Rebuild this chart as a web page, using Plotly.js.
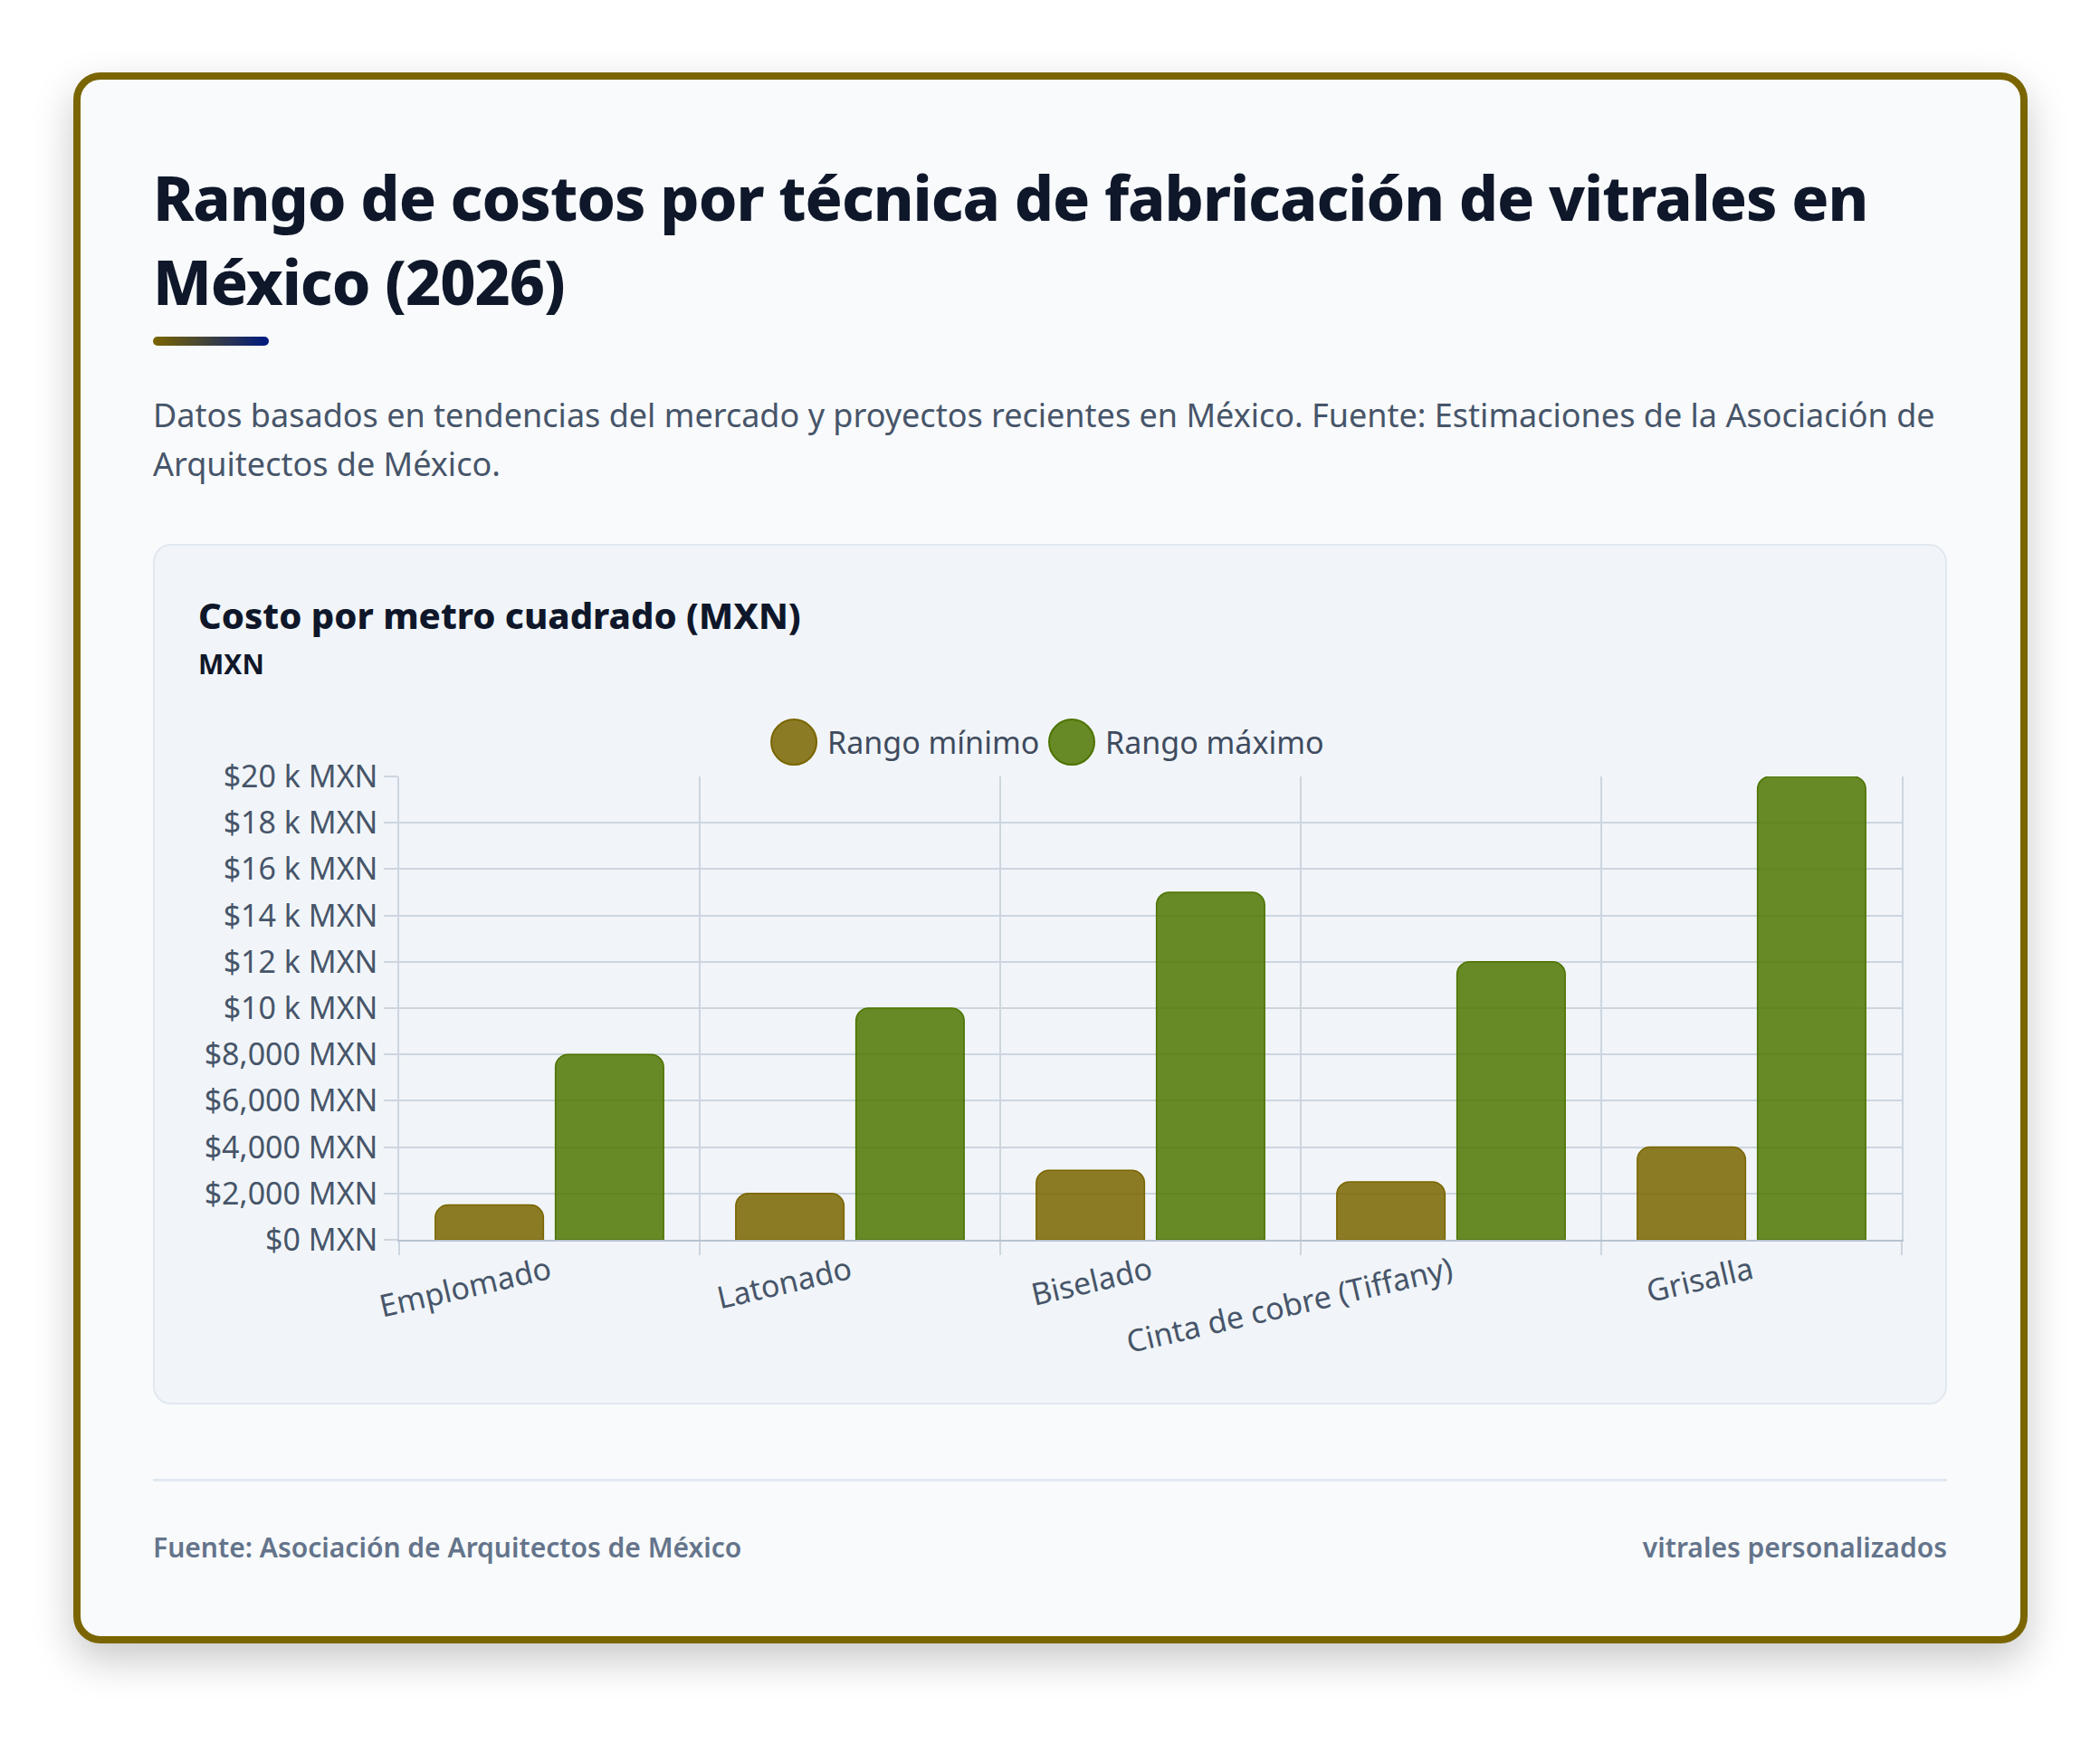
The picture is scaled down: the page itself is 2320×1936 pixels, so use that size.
<!DOCTYPE html>
<html lang="es">
<head>
<meta charset="utf-8">
<script src="https://cdn.plot.ly/plotly-3.0.1.min.js"></script>
<style>
  html, body { margin: 0; padding: 0; background: #ffffff; width: 2320px; height: 1936px; overflow: hidden; }
  body { font-family: "Noto Sans", "Open Sans", sans-serif; position: relative; }
  .card { position: absolute; left: 81px; top: 80px; width: 2159px; height: 1736px; box-sizing: border-box;
          border: 8px solid #7a6500; border-radius: 30px; background: #f8fafc;
          box-shadow: 0 18px 45px rgba(0,0,0,0.22); }
  .abs { position: absolute; margin: 0; }
  #title { left: 169px; top: 171px; width: 1982px; font-size: 68px; line-height: 93px; font-weight: 800; letter-spacing: -1px; color: #0f172a; }
  #accent { left: 169px; top: 372px; width: 128px; height: 10px; border-radius: 5px;
            background: linear-gradient(90deg, #7a6500, #001a80); }
  #subtitle { left: 169px; top: 432px; width: 1982px; font-size: 36px; line-height: 54.4px; color: #475569; }
  #box { left: 169px; top: 601px; width: 1982px; height: 951px; box-sizing: border-box; border: 2px solid #e2e8f0;
         border-radius: 20px; background: #f1f5f9; }
  #chart { left: 169px; top: 601px; width: 1982px; height: 951px; }
  #ctitle { left: 219px; top: 660px; font-size: 40px; line-height: 40px; font-weight: 800; color: #0f172a; white-space: nowrap; }
  #cunit { left: 219px; top: 719px; font-size: 30px; line-height: 30px; font-weight: 700; color: #0f172a; }
  #rule { left: 169px; top: 1634px; width: 1982px; height: 3px; background: #e2e8f0; }
  .foot { top: 1695px; font-size: 30px; line-height: 30px; font-weight: 600; color: #64748b; white-space: nowrap; }
  #fleft { left: 169px; }
  #fright { right: 169px; }
</style>
</head>
<body>
<div class="card"></div>
<h1 class="abs" id="title">Rango de costos por técnica de fabricación de vitrales en México (2026)</h1>
<div class="abs" id="accent"></div>
<p class="abs" id="subtitle">Datos basados en tendencias del mercado y proyectos recientes en México. Fuente: Estimaciones de la Asociación de Arquitectos de México.</p>
<div class="abs" id="box"></div>
<div class="abs" id="chart"></div>
<div class="abs" id="ctitle">Costo por metro cuadrado (MXN)</div>
<div class="abs" id="cunit">MXN</div>
<div class="abs" id="rule"></div>
<div class="abs foot" id="fleft">Fuente: Asociación de Arquitectos de México</div>
<div class="abs foot" id="fright">vitrales personalizados</div>

<script>
const categories = ["Emplomado", "Latonado", "Biselado", "Cinta de cobre (Tiffany)", "Grisalla"];
const minValues = [1500, 2000, 3000, 2500, 4000];
const maxValues = [8000, 10000, 15000, 12000, 20000];
const seriesNames = ["Rango mínimo", "Rango máximo"];
const tickValues = [0, 2000, 4000, 6000, 8000, 10000, 12000, 14000, 16000, 18000, 20000];
const tickLabels = ["$0 MXN", "$2,000 MXN", "$4,000 MXN", "$6,000 MXN", "$8,000 MXN", "$10 k MXN",
                    "$12 k MXN", "$14 k MXN", "$16 k MXN", "$18 k MXN", "$20 k MXN"];

const FONT = '"Noto Sans", "Open Sans", sans-serif';
const minFill = 'rgba(122,101,0,0.85)', minLine = '#7a6500';
const maxFill = 'rgba(79,118,1,0.85)', maxLine = '#4d7300';
const gridC = '#cdd5df';

const traces = [
  { type: 'bar', name: seriesNames[0], x: categories, y: minValues,
    marker: { color: minFill, line: { color: minLine, width: 1.5 }, cornerradius: 14 },
    hovertemplate: '%{x}<br>' + seriesNames[0] + ': $%{y:,} MXN<extra></extra>' },
  { type: 'bar', name: seriesNames[1], x: categories, y: maxValues,
    marker: { color: maxFill, line: { color: maxLine, width: 1.5 }, cornerradius: 14 },
    hovertemplate: '%{x}<br>' + seriesNames[1] + ': $%{y:,} MXN<extra></extra>' }
];

const legY = 1.074;
const legend = [
  { fill: minFill, line: minLine, cx: 0.2627, tx: 0.2837, name: seriesNames[0] },
  { fill: maxFill, line: maxLine, cx: 0.4476, tx: 0.4687, name: seriesNames[1] }
];

const layout = {
  width: 1982, height: 951,
  margin: { l: 272, r: 50, t: 257, b: 182, pad: 0 },
  paper_bgcolor: 'rgba(0,0,0,0)',
  plot_bgcolor: 'rgba(0,0,0,0)',
  font: { family: FONT, size: 34, color: '#475569' },
  showlegend: false,
  barmode: 'group',
  bargap: 0.2,
  bargroupgap: 0.1,
  xaxis: {
    type: 'category', tickson: 'boundaries', showgrid: true, gridcolor: gridC, gridwidth: 1.5,
    ticks: 'outside', ticklen: 15, tickcolor: gridC, tickwidth: 1.5,
    tickangle: -13, tickfont: { family: FONT, size: 34, color: '#475569' },
    showline: true, linecolor: '#b8c2d0', linewidth: 2, zeroline: false, fixedrange: true
  },
  yaxis: {
    range: [0, 20000], tickmode: 'array', tickvals: tickValues, ticktext: tickLabels,
    showgrid: true, gridcolor: gridC, gridwidth: 1.5,
    ticks: 'outside', ticklen: 15, tickcolor: gridC, tickwidth: 1.5,
    tickfont: { family: FONT, size: 34, color: '#475569' },
    showline: true, mirror: true, linecolor: gridC, linewidth: 1.5,
    zeroline: false, fixedrange: true
  },
  shapes: legend.map(l => ({
    type: 'circle', xref: 'paper', yref: 'paper', xsizemode: 'pixel', ysizemode: 'pixel',
    xanchor: l.cx, yanchor: legY, x0: -25, x1: 25, y0: -25, y1: 25,
    fillcolor: l.fill, line: { color: l.line, width: 2 }
  })),
  annotations: legend.map(l => ({
    xref: 'paper', yref: 'paper', x: l.tx, y: legY, xanchor: 'left', yanchor: 'middle',
    text: l.name, showarrow: false, font: { family: FONT, size: 34, color: '#3f4b5e' }
  }))
};

Plotly.newPlot('chart', traces, layout, { displayModeBar: false });
</script>
</body>
</html>
